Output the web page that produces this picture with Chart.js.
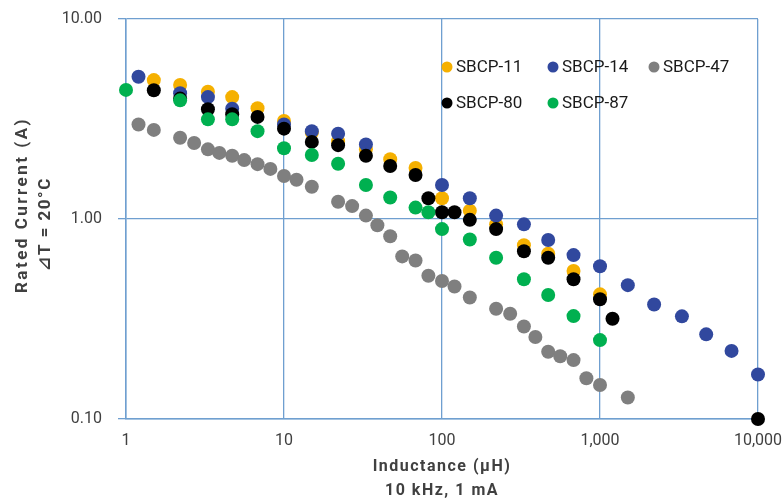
<!DOCTYPE html>
<html>
<head>
<meta charset="utf-8">
<title>Rated Current vs Inductance</title>
<script src="https://cdn.jsdelivr.net/npm/chart.js@4.4.1/dist/chart.umd.min.js"></script>
<style>
  html, body { margin: 0; padding: 0; background: #fff; }
  #wrap { width: 783px; height: 502px; position: relative; }
</style>
</head>
<body>
<div id="wrap"><canvas id="chart"></canvas></div>
<script>
// Inductance (uH) / rated current (A) per part family
var sbcp11L = [1.5, 2.2, 3.3, 4.7, 6.8, 10, 15, 22, 33, 47, 68, 100, 150, 220, 330, 470, 680, 1000];
var sbcp11I = [4.95, 4.68, 4.33, 4.07, 3.58, 3.09, 2.7, 2.45, 2.23, 1.99, 1.80, 1.27, 1.10, 0.94, 0.74, 0.67, 0.55, 0.42];

var sbcp14L = [1.2, 2.2, 3.3, 4.7, 10, 15, 22, 33, 100, 150, 220, 330, 470, 680, 1000, 1500, 2200, 3300, 4700, 6800, 10000];
var sbcp14I = [5.14, 4.25, 4.07, 3.56, 2.97, 2.75, 2.67, 2.36, 1.48, 1.27, 1.04, 0.94, 0.785, 0.66, 0.58, 0.467, 0.374, 0.326, 0.265, 0.219, 0.167];

var sbcp47L = [1.2, 1.5, 2.2, 2.7, 3.3, 3.9, 4.7, 5.6, 6.8, 8.2, 10, 12, 15, 22, 27, 33, 39, 47, 56, 68, 82, 100, 120, 150, 220, 270, 330, 390, 470, 560, 680, 820, 1000, 1500];
var sbcp47I = [2.97, 2.79, 2.55, 2.40, 2.23, 2.14, 2.07, 1.97, 1.88, 1.78, 1.64, 1.57, 1.45, 1.22, 1.16, 1.04, 0.93, 0.82, 0.65, 0.62, 0.52, 0.49, 0.46, 0.405, 0.356, 0.336, 0.29, 0.257, 0.217, 0.206, 0.197, 0.16, 0.148, 0.128];

var sbcp80L = [1.5, 2.2, 3.3, 4.7, 6.8, 10, 15, 22, 33, 47, 68, 82, 100, 120, 150, 220, 330, 470, 680, 1000, 1200, 10000];
var sbcp80I = [4.40, 4.0, 3.54, 3.34, 3.24, 2.83, 2.43, 2.34, 2.07, 1.84, 1.66, 1.27, 1.08, 1.08, 0.99, 0.89, 0.69, 0.64, 0.50, 0.397, 0.317, 0.10];

var sbcp87L = [1, 2.2, 3.3, 4.7, 6.8, 10, 15, 22, 33, 47, 68, 82, 100, 150, 220, 330, 470, 680, 1000];
var sbcp87I = [4.42, 3.92, 3.15, 3.15, 2.75, 2.26, 2.09, 1.89, 1.48, 1.28, 1.14, 1.08, 0.89, 0.79, 0.64, 0.50, 0.417, 0.327, 0.248];

var seriesNames  = ['SBCP-11', 'SBCP-14', 'SBCP-47', 'SBCP-80', 'SBCP-87'];
var xTickValues  = [1, 10, 100, 1000, 10000];
var xTickLabels  = ['1', '10', '100', '1,000', '10,000'];
var yTickValues  = [0.1, 1, 10];
var yTickLabels  = ['0.10', '1.00', '10.00'];

var xTitle = ['Inductance (\u03bcH)', '10 kHz, 1 mA'];
var yTitle = ['Rated Current (A)', '\u22bfT = 20\u00b0C'];

var colors   = ['#f5b000', '#31489e', '#7f7f7f', '#000000', '#00b050'];
var gridBlue = '#6f9fd0';
var textGray = '#404040';

function pairs(xs, ys) {
    return xs.map(function (x, i) { return { x: x, y: ys[i] }; });
}

var allL = [sbcp11L, sbcp14L, sbcp47L, sbcp80L, sbcp87L];
var allI = [sbcp11I, sbcp14I, sbcp47I, sbcp80I, sbcp87I];

var datasets = seriesNames.map(function (name, i) {
    return {
        label           : name,
        data            : pairs(allL[i], allI[i]),
        backgroundColor : colors[i],
        borderWidth     : 0,
        pointRadius     : 7,
        pointHoverRadius: 7,
        clip            : false,
        // later series sit on top, like the original
        order           : seriesNames.length - i
    };
});

/* ------------------------------------------------------------------
   Legend inside the plot + axis titles
------------------------------------------------------------------ */
var decorPlugin = {
    id: 'decor',
    afterDraw: function (chart) {
        var ctx  = chart.ctx;
        var area = chart.chartArea;
        var hasSpacing = ('letterSpacing' in ctx);

        // legend: 3 on first row, 2 on second
        var rows = [[0, 1, 2], [3, 4]];
        var colX = [area.left + 321, area.left + 427, area.left + 528];
        var rowY = [area.top + 48, area.top + 84];
        ctx.save();
        ctx.font = '17px Roboto, "DejaVu Sans", sans-serif';
        ctx.textBaseline = 'middle';
        ctx.textAlign = 'left';
        rows.forEach(function (row, r) {
            row.forEach(function (di, c) {
                var ds = chart.data.datasets[di];
                ctx.fillStyle = ds.backgroundColor;
                ctx.beginPath();
                ctx.arc(colX[c], rowY[r], 5.5, 0, Math.PI * 2);
                ctx.fill();
                ctx.fillStyle = '#1a1a1a';
                ctx.fillText(ds.label, colX[c] + 9, rowY[r] + 1);
            });
        });

        // axis titles
        ctx.fillStyle = textGray;
        ctx.font = 'bold 16px Roboto, "DejaVu Sans", sans-serif';
        ctx.textAlign = 'center';
        if (hasSpacing) ctx.letterSpacing = '1.5px';
        var cx = (area.left + area.right) / 2;
        ctx.fillText(xTitle[0], cx, 467);
        ctx.fillText(xTitle[1], cx, 491);

        ctx.translate(23, 205);
        ctx.rotate(-Math.PI / 2);
        ctx.font = 'bold 17px Roboto, "DejaVu Sans", sans-serif';
        if (hasSpacing) ctx.letterSpacing = '2.5px';
        ctx.fillText(yTitle[0], 0, 0);
        if (hasSpacing) ctx.letterSpacing = '1.5px';
        ctx.fillText(yTitle[1], -19, 23);
        ctx.restore();
    }
};

var chart = new Chart(document.getElementById('chart').getContext('2d'), {
    type    : 'scatter',
    data    : { datasets: datasets },
    plugins : [decorPlugin],
    options : {
        responsive         : true,
        maintainAspectRatio: false,
        animation          : false,
        layout             : { padding: { top: 19, right: 25, left: 0, bottom: 0 } },
        plugins            : { legend: { display: false }, tooltip: { enabled: false } },
        scales             : {
            x: {
                type  : 'logarithmic',
                min   : 1,
                max   : 10000,
                afterBuildTicks: function (axis) {
                    axis.ticks = xTickValues.map(function (v) { return { value: v }; });
                },
                afterFit: function (axis) {
                    axis.height = 83;
                    axis.paddingLeft = 0;
                    axis.paddingRight = 0;
                },
                grid  : { color: gridBlue, lineWidth: 1.3, drawTicks: false },
                border: { color: gridBlue, width: 1.5 },
                ticks : {
                    padding    : 12,
                    color      : textGray,
                    font       : { family: 'Roboto', size: 16 },
                    maxRotation: 0,
                    autoSkip   : false,
                    callback   : function (v, i) { return xTickLabels[i]; }
                }
            },
            y: {
                type  : 'logarithmic',
                min   : 0.1,
                max   : 10,
                afterBuildTicks: function (axis) {
                    axis.ticks = yTickValues.map(function (v) { return { value: v }; });
                },
                afterFit: function (axis) {
                    axis.width = 126;
                    axis.paddingTop = 0;
                    axis.paddingBottom = 0;
                },
                grid  : { color: gridBlue, lineWidth: 1.3, drawTicks: true, tickLength: 8 },
                border: { color: gridBlue, width: 1.5 },
                ticks : {
                    padding : 16,
                    color   : textGray,
                    font    : { family: 'Roboto', size: 16 },
                    autoSkip: false,
                    callback: function (v, i) { return yTickLabels[i]; }
                }
            }
        }
    }
});
</script>
</body>
</html>
